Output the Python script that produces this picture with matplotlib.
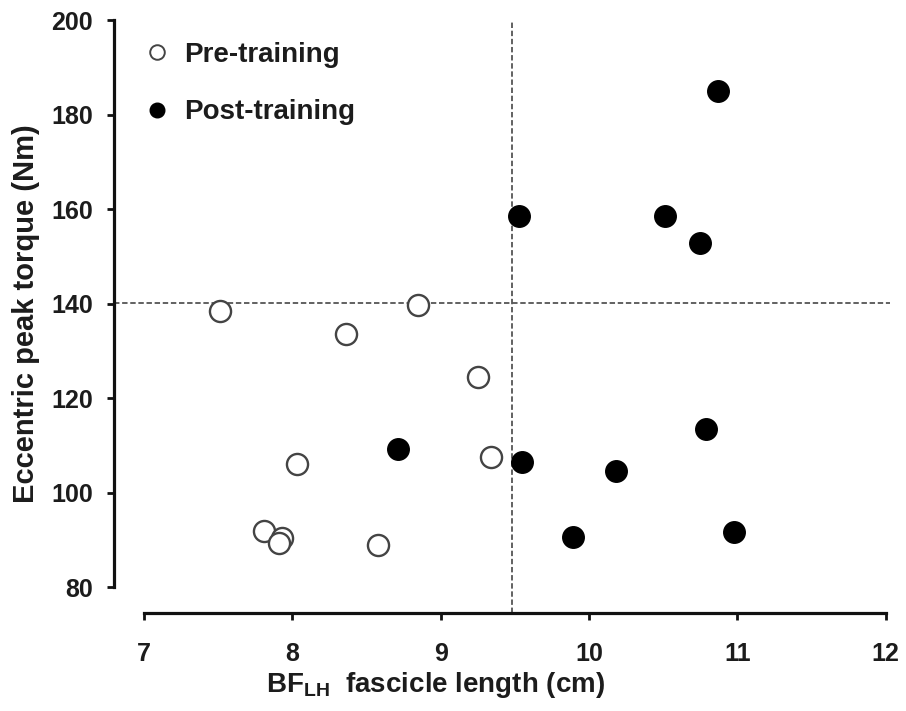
import matplotlib
matplotlib.use("Agg")
import matplotlib.pyplot as plt
from matplotlib.lines import Line2D

# fascicle length (cm) and eccentric peak torque (Nm)
pre_length = [7.51, 8.36, 8.85, 9.25, 9.34, 8.03, 7.81, 7.93, 7.91, 8.58]
pre_torque = [138.4, 133.5, 139.7, 124.4, 107.5, 106.0, 91.9, 90.3, 89.3, 88.9]
post_length = [10.87, 9.53, 10.51, 10.75, 8.71, 9.55, 10.18, 10.79, 9.89, 10.98]
post_torque = [185.0, 158.5, 158.5, 152.8, 109.2, 106.5, 104.6, 113.4, 90.6, 91.6]

cut_length = 9.48
cut_torque = 140.2

x_ticks = [7, 8, 9, 10, 11, 12]
y_ticks = [80, 100, 120, 140, 160, 180, 200]

plt.rcParams['font.family'] = 'Liberation Sans'
plt.rcParams['font.weight'] = 'bold'
plt.rcParams['axes.labelweight'] = 'bold'
plt.rcParams['mathtext.fontset'] = 'custom'
plt.rcParams['mathtext.rm'] = 'Liberation Sans:bold'
plt.rcParams['mathtext.default'] = 'rm'

txt = '#1c1c1c'

fig = plt.figure(figsize=(9.06, 7.11), dpi=100)
ax = fig.add_axes([114 / 906, 1 - 613 / 711, 776 / 906, 598 / 711])

ax.plot([cut_length, cut_length], [74.5, 200], color='#555555', lw=1.3, dashes=(3, 1.5), zorder=1)
ax.plot([6.798, 12.03], [cut_torque, cut_torque], color='#555555', lw=1.3, dashes=(3, 1.5), zorder=1)

ax.plot(pre_length, pre_torque, 'o', ms=15.2, mfc='white', mec='#444444', mew=1.7, ls='none', zorder=3)
ax.plot(post_length, post_torque, 'o', ms=15.5, mfc='black', mec='black', mew=1, ls='none', zorder=3)

ax.set_xlim(6.798, 12.03)
ax.set_ylim(74.5, 201.06)
ax.spines['top'].set_visible(False)
ax.spines['right'].set_visible(False)
ax.spines['left'].set_bounds(80, 200)
ax.spines['bottom'].set_bounds(7, 12)
for s in ['left', 'bottom']:
    ax.spines[s].set_linewidth(2.3)
    ax.spines[s].set_color('#111111')

ax.set_xticks(x_ticks)
ax.set_yticks(y_ticks)
ax.tick_params(axis='both', direction='out', length=5, width=2, color='#111111',
               labelsize=18, labelcolor=txt)
ax.tick_params(axis='y', pad=10)
ax.tick_params(axis='x', pad=16)

ax.set_xlabel('BF$_{LH}$  fascicle length (cm)', fontsize=20, color=txt, labelpad=2.5)
ax.xaxis.label.set_x(0.414)
ax.set_ylabel('Eccentric peak torque (Nm)', fontsize=21, color=txt, labelpad=8)

handles = [
    Line2D([], [], marker='o', ls='none', ms=10.5, mfc='white', mec='#444444', mew=1.4),
    Line2D([], [], marker='o', ls='none', ms=10.5, mfc='black', mec='black'),
]
ax.legend(handles, ['Pre-training', 'Post-training'], loc='upper left',
          bbox_to_anchor=(-0.006, 0.997), frameon=False, fontsize=20,
          labelspacing=1.14, handletextpad=0.2, handlelength=1.6, labelcolor=txt)

fig.savefig('out.png', dpi=100)
